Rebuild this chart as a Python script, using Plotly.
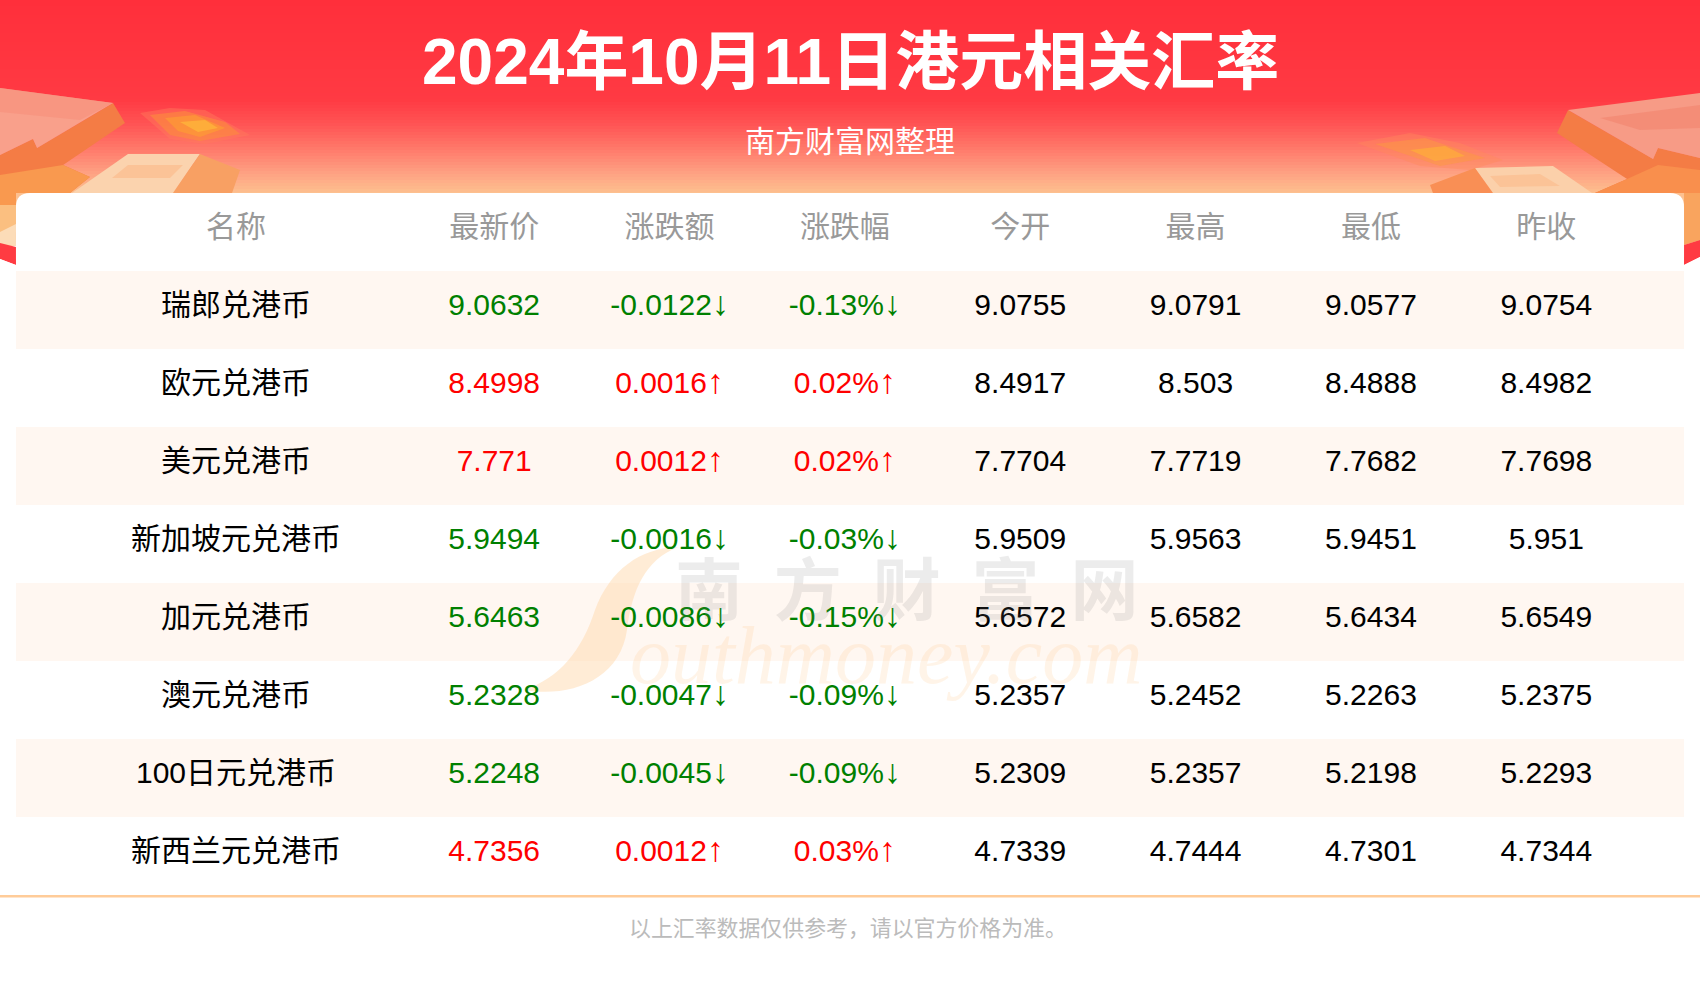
import plotly.graph_objects as go

W = 1700
H = 1000

# table contents
headers = ["最新价", "涨跌额", "涨跌幅", "今开", "最高", "最低", "昨收"]
names = ["瑞郎兑港币", "欧元兑港币", "美元兑港币", "新加坡元兑港币", "加元兑港币", "澳元兑港币", "100日元兑港币", "新西兰元兑港币"]
latest = ["9.0632", "8.4998", "7.771", "5.9494", "5.6463", "5.2328", "5.2248", "4.7356"]
change = ["-0.0122↓", "0.0016↑", "0.0012↑", "-0.0016↓", "-0.0086↓", "-0.0047↓", "-0.0045↓", "0.0012↑"]
change_pct = ["-0.13%↓", "0.02%↑", "0.02%↑", "-0.03%↓", "-0.15%↓", "-0.09%↓", "-0.09%↓", "0.03%↑"]
open_px = ["9.0755", "8.4917", "7.7704", "5.9509", "5.6572", "5.2357", "5.2309", "4.7339"]
high_px = ["9.0791", "8.503", "7.7719", "5.9563", "5.6582", "5.2452", "5.2357", "4.7444"]
low_px = ["9.0577", "8.4888", "7.7682", "5.9451", "5.6434", "5.2263", "5.2198", "4.7301"]
prev_close = ["9.0754", "8.4982", "7.7698", "5.951", "5.6549", "5.2375", "5.2293", "4.7344"]

FONT = "Liberation Sans, Noto Sans CJK SC, sans-serif"
UP = "#ff0000"
DOWN = "#008000"


def fx(x):
    return x / W


def fy(y):
    return 1 - y / H


def lerp_color(stops, y):
    for (y0, c0), (y1, c1) in zip(stops, stops[1:]):
        if y <= y1:
            t = (y - y0) / (y1 - y0)
            rgb = [round(c0[i] + (c1[i] - c0[i]) * t) for i in range(3)]
            return "rgb(%d,%d,%d)" % tuple(rgb)
    return "rgb(%d,%d,%d)" % stops[-1][1]


def rect(x0, y0, x1, y1, color):
    return dict(type="rect", xref="paper", yref="paper", x0=fx(x0), x1=fx(x1), y0=fy(y0), y1=fy(y1),
                fillcolor=color, line_width=0, layer="below")


def poly(points, color, opacity=1):
    path = "M " + " L ".join("%.4f,%.4f" % (fx(x), fy(y)) for x, y in points) + " Z"
    return dict(type="path", xref="paper", yref="paper", path=path, fillcolor=color,
                opacity=opacity, line_width=0, layer="below")


def big_arrow_text(s):
    # the arrows are taller in the original than Liberation draws them
    return s.replace("↓", '<span style="font-size:34px">↓</span>').replace("↑", '<span style="font-size:34px">↑</span>')


shapes = []

# red header gradient, runs on down the two side strips
grad = [(0, (255, 47, 59)), (100, (255, 58, 67)), (125, (255, 85, 85)), (150, (255, 123, 107)),
        (170, (254, 156, 128)), (193, (253, 192, 143)), (245, (253, 214, 170))]
for y in range(0, 246, 3):
    shapes.append(rect(0, y, W, y + 3, lerp_color(grad, y + 1.5)))

# left decoration
shapes.append(poly([(33, 139), (37, 148), (113, 103), (125, 123), (63, 165), (90, 177), (70, 193), (16, 193),
                    (16, 240), (0, 240), (0, 155)], "#f47c45"))
shapes.append(poly([(0, 175), (63, 165), (90, 177), (70, 193), (16, 193), (16, 222), (0, 222)], "#f9994f"))
shapes.append(poly([(0, 205), (16, 205), (16, 232), (0, 240)], "#fbbf80"))
shapes.append(poly([(0, 232), (16, 224), (16, 246), (0, 243)], "#fcdcb8"))
shapes.append(poly([(0, 88), (113, 103), (37, 148), (33, 139), (0, 155)], "#f9a08b"))
shapes.append(poly([(0, 88), (113, 103), (80, 120), (0, 112)], "#f6907c", 0.6))
shapes.append(poly([(128, 154), (200, 154), (173, 193), (72, 193)], "#fbd3ae"))
shapes.append(poly([(128, 165), (183, 165), (170, 178), (112, 178)], "#fbc397"))
shapes.append(poly([(200, 154), (240, 170), (232, 193), (173, 193)], "#f8a063"))
# blurred coin, several soft layers
for pts, col, op in [
    ([(140, 113), (170, 108), (205, 110), (250, 135), (205, 144), (170, 139)], "#ff7a5a", 0.45),
    ([(150, 115), (185, 111), (225, 122), (240, 134), (200, 141), (170, 135)], "#fb8f3b", 0.55),
    ([(165, 118), (195, 115), (225, 128), (200, 137), (178, 131)], "#fda032", 0.6),
    ([(180, 122), (205, 120), (218, 128), (198, 132)], "#ffc03a", 0.6),
]:
    shapes.append(poly(pts, col, op))

# right decoration
shapes.append(poly([(1568, 110), (1557, 133), (1627, 179), (1595, 193), (1700, 193), (1700, 158), (1658, 148),
                    (1653, 159)], "#f47c45"))
shapes.append(poly([(1627, 179), (1595, 193), (1700, 193), (1700, 170), (1658, 165)], "#f98f4d"))
shapes.append(poly([(1684, 193), (1700, 193), (1700, 240), (1684, 245)], "#f9a45e"))
shapes.append(poly([(1568, 110), (1700, 93), (1700, 158), (1658, 148), (1653, 159)], "#f79b86"))
shapes.append(poly([(1600, 118), (1700, 105), (1700, 128), (1640, 130)], "#f2846e", 0.6))
shapes.append(poly([(1475, 168), (1553, 166), (1592, 193), (1493, 193)], "#fbd0aa"))
shapes.append(poly([(1490, 176), (1540, 174), (1560, 186), (1500, 187)], "#fbc397"))
shapes.append(poly([(1430, 185), (1475, 168), (1493, 193), (1433, 193)], "#f98f55"))
for pts, col, op in [
    ([(1357, 143), (1410, 133), (1460, 143), (1503, 160), (1470, 170), (1420, 166)], "#ff8a5a", 0.4),
    ([(1375, 144), (1425, 138), (1485, 158), (1440, 166)], "#fb9a3f", 0.5),
    ([(1410, 150), (1445, 146), (1465, 156), (1435, 161)], "#ffb733", 0.55),
]:
    shapes.append(poly(pts, col, op))

# red ribbon peeking out on both sides of the card
shapes.append(poly([(0, 243), (16, 247), (16, 265), (0, 259)], "#ff3b42"))
shapes.append(poly([(1684, 245), (1700, 240), (1700, 257), (1684, 265)], "#ff3b42"))

# white card and page below it
shapes.append(poly([(0, 259), (16, 265), (1684, 265), (1700, 257), (1700, H), (0, H)], "#ffffff"))
card_path = "M %.4f,%.4f " % (fx(16), fy(300))
card_path += "L %.4f,%.4f Q %.4f,%.4f %.4f,%.4f " % (fx(16), fy(207), fx(16), fy(193), fx(30), fy(193))
card_path += "L %.4f,%.4f Q %.4f,%.4f %.4f,%.4f " % (fx(1670), fy(193), fx(1684), fy(193), fx(1684), fy(207))
card_path += "L %.4f,%.4f Z" % (fx(1684), fy(300))
shapes.append(dict(type="path", xref="paper", yref="paper", path=card_path, fillcolor="#ffffff",
                   line_width=0, layer="below"))

# alternate row stripes
for i in range(0, len(names), 2):
    shapes.append(rect(16, 271 + i * 78, 1684, 349 + i * 78, "#fff7f1"))

# swoosh of the big S in the watermark
s_path = "M %.4f,%.4f " % (fx(678), fy(547))
s_path += "C %.4f,%.4f %.4f,%.4f %.4f,%.4f " % (fx(640), fy(548), fx(610), fy(570), fx(595), fy(610))
s_path += "C %.4f,%.4f %.4f,%.4f %.4f,%.4f " % (fx(582), fy(650), fx(560), fy(678), fx(524), fy(690))
s_path += "C %.4f,%.4f %.4f,%.4f %.4f,%.4f " % (fx(570), fy(698), fx(620), fy(680), fx(627), fy(630))
s_path += "C %.4f,%.4f %.4f,%.4f %.4f,%.4f Z" % (fx(632), fy(590), fx(645), fy(560), fx(678), fy(547))
shapes.append(dict(type="path", xref="paper", yref="paper", path=s_path, fillcolor="#ffd9ae",
                   opacity=0.5, line_width=0, layer="below"))

# line under the table
shapes.append(rect(0, 895, W, 897.5, "#ffcc99"))

fig = go.Figure()

rows = ["header"] + names
text_style = dict(mode="text", hoverinfo="skip", showlegend=False)

fig.add_trace(go.Scatter(x=["名称"] * len(rows), y=rows, text=["名称"] + names, xaxis="x2", yaxis="y",
                         textfont=dict(family=FONT, size=30, color=["#999999"] + ["#000000"] * len(names)),
                         **text_style))

columns = [latest, change, change_pct, open_px, high_px, low_px, prev_close]
for col, (head, values) in enumerate(zip(headers, columns)):
    if col < 3:
        colors = [DOWN if c.startswith("-") else UP for c in change]
    else:
        colors = ["#000000"] * len(values)
    fig.add_trace(go.Scatter(x=[head] * len(rows), y=rows, text=[head] + [big_arrow_text(v) for v in values],
                             xaxis="x", yaxis="y",
                             textfont=dict(family=FONT, size=30, color=["#999999"] + colors),
                             **text_style))

annotations = [
    dict(text="<b>2024年10月11日港元相关汇率</b>", x=0.5, y=fy(62),
         font=dict(family=FONT, size=64, color="#ffffff")),
    dict(text="南方财富网整理", x=0.5, y=fy(141),
         font=dict(family=FONT, size=30, color="#ffffff")),
    dict(text="以上汇率数据仅供参考，请以官方价格为准。", x=fx(848), y=fy(928),
         font=dict(family=FONT, size=21.9, color="#bbbbbb")),
    # watermark
    dict(text="<b>南  方  财  富  网</b>", x=fx(907), y=fy(585),
         font=dict(family="Noto Sans CJK SC", size=68, color="rgba(120,120,120,0.14)")),
    dict(text="<i>outhmoney.com</i>", x=fx(886), y=fy(655),
         font=dict(family="Liberation Serif", size=82, color="rgba(255,190,120,0.17)")),
]
for a in annotations:
    a.update(xref="paper", yref="paper", showarrow=False, xanchor="center", yanchor="middle")

fig.update_layout(
    width=W,
    height=H,
    margin=dict(l=0, r=0, t=0, b=0),
    paper_bgcolor="#ffffff",
    plot_bgcolor="rgba(0,0,0,0)",
    shapes=shapes,
    annotations=annotations,
    xaxis=dict(domain=[fx(406.5), fx(1634)], type="category", categoryorder="array", categoryarray=headers,
               range=[-0.5, 6.5], visible=False, anchor="y"),
    xaxis2=dict(domain=[fx(66), fx(406)], type="category", range=[-0.5, 0.5], visible=False, anchor="y"),
    yaxis=dict(domain=[fy(892.5), fy(190.5)], type="category", categoryorder="array", categoryarray=rows,
               range=[8.5, -0.5], visible=False),
)

fig.write_html("out.html", config={"displayModeBar": False}, post_script="document.body.style.margin = '0';")
